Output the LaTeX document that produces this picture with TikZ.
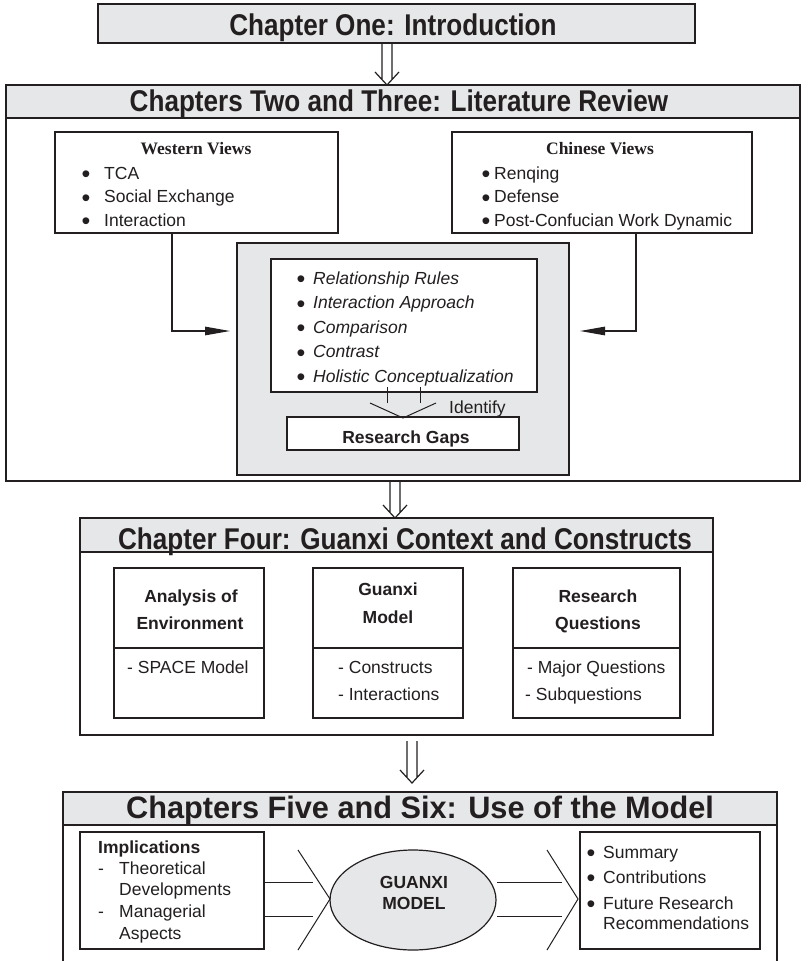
\documentclass[tikz,border=0pt]{standalone}
\usepackage{fontspec}
\setmainfont{Liberation Sans}
\newfontfamily\titleserif{Liberation Serif}
\newfontfamily\headfont[FakeStretch=0.87]{Liberation Sans}
\newfontfamily\wideheadfont[FakeStretch=0.99]{Liberation Sans}
\usetikzlibrary{arrows.meta,shapes.geometric,calc}
\definecolor{ink}{HTML}{231F20}
\definecolor{panel}{HTML}{E6E7E8}
\begin{document}
\begin{tikzpicture}[x=1pt,y=-1pt,
  frame/.style={draw=ink, line width=1.2pt, rectangle, inner sep=0pt, outer sep=0pt, fill=white},
  shaded/.style={frame, fill=panel},
  edge/.style={draw=ink, line width=1.2pt},
  thin/.style={draw=ink, line width=1pt},
  head/.style={text=ink, font=\fontsize{30}{30}\selectfont\headfont\bfseries, inner sep=0pt, anchor=base},
  widehead/.style={head, font=\fontsize{31}{31}\selectfont\wideheadfont\bfseries},
  body/.style={text=ink, font=\fontsize{17.5}{20}\selectfont, inner sep=0pt, anchor=base west},
  bodyit/.style={body, font=\fontsize{17.5}{20}\selectfont\itshape},
  bodyb/.style={text=ink, font=\fontsize{17.5}{20}\selectfont\bfseries, inner sep=0pt, anchor=base},
  dot/.style={text=ink, font=\fontsize{25}{25}\selectfont, inner sep=0pt, anchor=base},
  serifhead/.style={text=ink, font=\fontsize{17.5}{20}\selectfont\titleserif\bfseries, inner sep=0pt, anchor=base},
  dblto/.style={edge, line join=miter, to path={
      ($(\tikztostart)+(-5,0)$) -- ($(\tikztotarget)+(-5,-5.5)$)
      ($(\tikztostart)+(5,0)$) -- ($(\tikztotarget)+(5,-5.5)$)
      ($(\tikztotarget)+(-12,-13)$) -- (\tikztotarget) -- ($(\tikztotarget)+(12,-13)$)}},
  elbow/.style={draw=ink, line width=1.2pt, -{Triangle[length=25pt,width=8.5pt]}}
]
\fill[white] (0,0) rectangle (807,961);
\useasboundingbox (0,0) rectangle (807,961);

% ---- Chapter One
\node[shaded, minimum width=597pt, minimum height=39pt] (ch1) at (396.5,23.5) {};
\node[head] (ch1t) at (393,35) {Chapter One: Introduction};

% ---- Chapters Two and Three
\node[frame, minimum width=794pt, minimum height=396pt] (ch2) at (403,283) {};
\node[shaded, minimum width=794pt, minimum height=33pt] (ch2bar) at (403,101.5) {};
\node[head] (ch2t) at (399,111) {Chapters Two and Three: Literature Review};

\node[frame, minimum width=283pt, minimum height=101pt] (west) at (196.5,182.5) {};
\node[serifhead] (westt) at (196,154) {Western Views};
\foreach \t [count=\i] in {TCA, Social Exchange, Interaction} {
  \node[dot] (wb\i) at (86,159+23.5*\i) {\textbullet};
  \node[body] (w\i) at (104,155.5+23.5*\i) {\t};
}

\node[frame, minimum width=300pt, minimum height=101pt] (chin) at (602,182.5) {};
\node[serifhead] (chint) at (600,154) {Chinese Views};
\foreach \t [count=\i] in {Renqing, Defense, Post-Confucian Work Dynamic} {
  \node[dot] (cb\i) at (486,159+23.5*\i) {\textbullet};
  \node[body] (c\i) at (494,155.5+23.5*\i) {\t};
}

\node[shaded, minimum width=332pt, minimum height=232pt] (grayb) at (403,359) {};
\node[frame, minimum width=266pt, minimum height=133pt] (lst) at (404,325.5) {};
\foreach \t [count=\i] in {Relationship Rules, Interaction Approach, Comparison, Contrast, Holistic Conceptualization} {
  \node[dot] (lb\i) at (301,263+24.5*\i) {\textbullet};
  \node[bodyit] (l\i) at (313,259.5+24.5*\i) {\t};
}
\node[frame, minimum width=232pt, minimum height=33pt] (gaps) at (403,433.5) {};
\node[bodyb] (gapst) at (406,443) {Research Gaps};

% identify connector
\draw[thin] ([shift={(-17,-5)}]lst.south) -- ([shift={(-17,11)}]lst.south);
\draw[thin] ([shift={(16,-5)}]lst.south) -- ([shift={(16,11)}]lst.south);
\draw[thin] ([shift={(-33,-14)}]gaps.north) -- ([shift={(0,1)}]gaps.north) -- ([shift={(33,-14)}]gaps.north);
\node[body] (ident) at (449,413) {Identify};

% side arrows into the grey panel
\draw[elbow] ([xshift=-24.5pt]west.south) |- ([shift={(-7,-28)}]grayb.west);
\draw[elbow] ([xshift=34pt]chin.south) |- ([shift={(11,-28)}]grayb.east);

% ---- Chapter Four
\node[frame, minimum width=633pt, minimum height=217pt] (ch4) at (396.5,626.5) {};
\node[shaded, minimum width=633pt, minimum height=34pt] (ch4bar) at (396.5,535) {};
\node[head] (ch4t) at (405,549) {Chapter Four: Guanxi Context and Constructs};

\node[frame, minimum width=150pt, minimum height=150pt] (b1) at (189,643) {};
\node[frame, minimum width=150pt, minimum height=150pt] (b2) at (388,643) {};
\node[frame, minimum width=167pt, minimum height=150pt] (b3) at (596.5,643) {};
\foreach \b in {b1,b2,b3} {
  \draw[edge] ([yshift=-80pt]\b.north west) -- ([yshift=-80pt]\b.north east);
}
\node[bodyb] (b1a) at (191,602) {Analysis of};
\node[bodyb] (b1b) at (190,629) {Environment};
\node[body] (b1c) at (127,673) {- SPACE Model};
\node[bodyb] (b2a) at (388,595) {Guanxi};
\node[bodyb] (b2b) at (388,623) {Model};
\node[body] (b2c) at (338,673) {- Constructs};
\node[body] (b2d) at (338,700) {- Interactions};
\node[bodyb] (b3a) at (598,602) {Research};
\node[bodyb] (b3b) at (598,629) {Questions};
\node[body] (b3c) at (527,673) {- Major Questions};
\node[body] (b3d) at (525,700) {- Subquestions};

% ---- Chapters Five and Six
\node[shaded, minimum width=714pt, minimum height=33pt] (ch5bar) at (420,808.5) {};
\node[widehead] (ch5t) at (420,818) {Chapters Five and Six: Use of the Model};
\coordinate (bottom) at (420,961);
\draw[edge] (ch5bar.south west) -- (ch5bar.south west |- bottom);
\draw[edge] (ch5bar.south east) -- (ch5bar.south east |- bottom);

\node[frame, minimum width=184pt, minimum height=117pt] (impl) at (172,890.5) {};
\node[text=ink, font=\fontsize{17.5}{20}\selectfont\bfseries, inner sep=0pt, anchor=base west] (implt) at (98,853) {Implications};
\node[body] (i1d) at (98,874) {-};
\node[body] (i1) at (119,874) {Theoretical};
\node[body] (i1b) at (119,895) {Developments};
\node[body] (i2d) at (98,917) {-};
\node[body] (i2) at (119,917) {Managerial};
\node[body] (i2b) at (119,939) {Aspects};

\node[draw=ink, line width=1.2pt, fill=panel, ellipse, inner sep=0pt, minimum width=166pt, minimum height=100pt] (model) at (413,900) {};
\node[bodyb] (m1) at (414,888) {GUANXI};
\node[bodyb] (m2) at (414,909) {MODEL};

\node[frame, minimum width=180pt, minimum height=117pt] (summ) at (670,890.5) {};
\foreach \t/\y [count=\i] in {Summary/858, Contributions/883, Future Research/909} {
  \node[dot] (sb\i) at (591,\y+3.5) {\textbullet};
  \node[body] (s\i) at (603,\y) {\t};
}
\node[body] (s4) at (603,929) {Recommendations};

% chevrons and feed lines
\coordinate (lchev) at (330,899);
\coordinate (rchev) at (578,899);
\draw[thin] ([shift={(-32,-49)}]lchev) -- (lchev) -- ([shift={(-32,51)}]lchev);
\draw[thin] ([shift={(-31,-49)}]rchev) -- (rchev) -- ([shift={(-31,51)}]rchev);
\coordinate (la) at (313,882);
\coordinate (lb) at (313,916);
\coordinate (ra) at (497,882);
\coordinate (rb) at (497,916);
\draw[thin] (impl.east |- la) -- (la);
\draw[thin] (impl.east |- lb) -- (lb);
\draw[thin] (ra) -- ++(65,0);
\draw[thin] (rb) -- ++(65,0);

% ---- chapter-to-chapter arrows
\draw[dblto] ([xshift=-9.5pt]ch1.south) to ([xshift=-16pt]ch2bar.north);
\draw[dblto] ([xshift=-8pt]ch2.south) to ([xshift=-1.5pt]ch4bar.north);
\draw[dblto] ([shift={(15.5,6)}]ch4.south) to ([shift={(-8,-9)}]ch5bar.north);
\end{tikzpicture}
\end{document}
